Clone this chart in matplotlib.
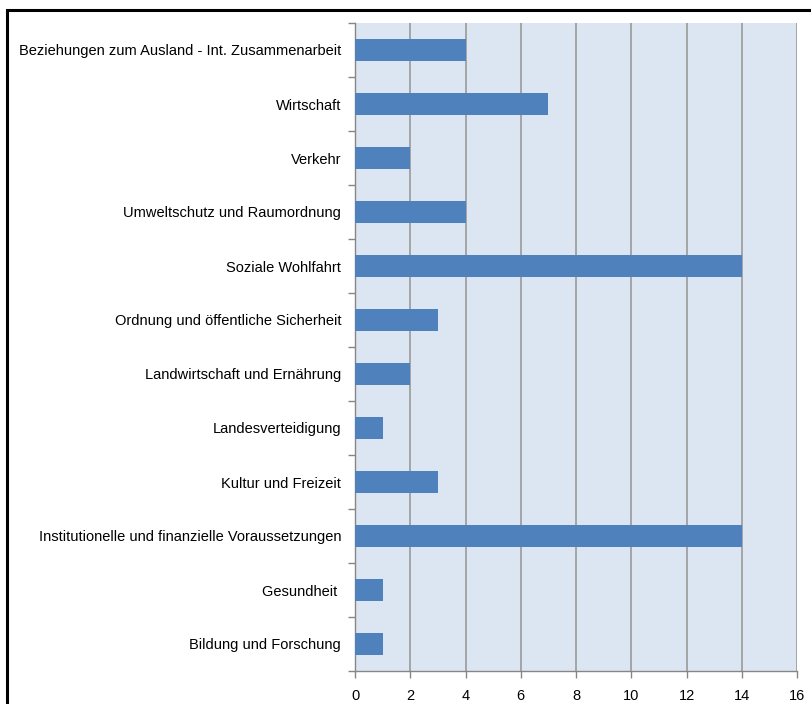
import matplotlib
matplotlib.use("Agg")
import matplotlib.pyplot as plt
from matplotlib.patches import Rectangle
import numpy as np

# categories top to bottom
categories = [
    "Beziehungen zum Ausland - Int. Zusammenarbeit",
    "Wirtschaft",
    "Verkehr",
    "Umweltschutz und Raumordnung",
    "Soziale Wohlfahrt",
    "Ordnung und öffentliche Sicherheit",
    "Landwirtschaft und Ernährung",
    "Landesverteidigung",
    "Kultur und Freizeit",
    "Institutionelle und finanzielle Voraussetzungen",
    "Gesundheit ",
    "Bildung und Forschung",
]
values = [4, 7, 2, 4, 14, 3, 2, 1, 3, 14, 1, 1]
xticks = [0, 2, 4, 6, 8, 10, 12, 14, 16]

plt.rcParams['font.family'] = ['Liberation Sans', 'DejaVu Sans']

fig = plt.figure(figsize=(8.11, 7.04), dpi=100)
fig.patch.set_facecolor("white")

# black frame, cut off at right and bottom like the screenshot
fig.patches.append(Rectangle((6.5 / 811, -0.1), 1.2, 1 - 9.5 / 704 + 0.1,
                             transform=fig.transFigure, fill=False,
                             edgecolor="black", linewidth=2.2, zorder=0))

ax = fig.add_axes([355 / 811, 1 - 671 / 704, 442 / 811, 648 / 704])
ax.set_facecolor("#DCE6F2")

y = np.arange(len(categories))
ax.barh(y, values, height=0.41, color="#4F81BD", zorder=3)

ax.set_xlim(0, 16)
ax.set_ylim(len(categories) - 0.5, -0.5)
ax.set_xticks(xticks)
ax.set_xticklabels([str(t) for t in xticks], fontsize=10.5)
ax.set_yticks(y)
ax.set_yticklabels(categories, fontsize=10.5)
ax.set_yticks(np.arange(len(categories) + 1) - 0.5, minor=True)

ax.tick_params(axis="y", which="major", length=0, pad=10)
ax.tick_params(axis="y", which="minor", length=5, color="#868686", width=1)
ax.tick_params(axis="x", length=5, color="#868686", width=1, pad=8)

ax.grid(axis="x", color="#A0A0A0", linewidth=1.3, zorder=1)
ax.set_axisbelow(True)
for s in ["top", "right"]:
    ax.spines[s].set_visible(False)
for s in ["left", "bottom"]:
    ax.spines[s].set_color("#868686")
    ax.spines[s].set_linewidth(1)

fig.savefig("out.png", dpi=100)
